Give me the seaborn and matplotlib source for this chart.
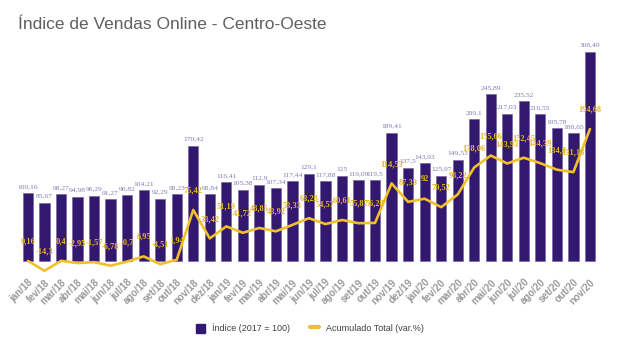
import numpy as np
import pandas as pd
import matplotlib
matplotlib.use("Agg")
import matplotlib.pyplot as plt
from matplotlib.patches import Patch
from matplotlib.lines import Line2D
import seaborn as sns

months = ["jan/18", "fev/18", "mar/18", "abr/18", "mai/18", "jun/18", "jul/18", "ago/18",
          "set/18", "out/18", "nov/18", "dez/18", "jan/19", "fev/19", "mar/19", "abr/19",
          "mai/19", "jun/19", "jul/19", "ago/19", "set/19", "out/19", "nov/19", "dez/19",
          "jan/20", "fev/20", "mar/20", "abr/20", "mai/20", "jun/20", "jul/20", "ago/20",
          "set/20", "out/20", "nov/20"]
indice = [100.16, 85.67, 98.27, 94.98, 96.29, 91.27, 96.82, 104.21,
          92.29, 98.23, 170.42, 98.84, 116.41, 105.38, 112.9, 107.34,
          117.44, 129.1, 117.88, 125, 119.09, 119.5, 189.41, 137.5,
          143.93, 125.97, 149.53, 209.1, 245.89, 217.03, 235.52, 216.55,
          195.78, 188.65, 308.49]
acumulado = [0.16, -14.3, 0.4, -2.95, -1.57, -6.78, -0.7, 6.95,
             -4.51, 1.94, 75.42, 33.42, 51.19, 41.72, 48.85, 43.92,
             53.33, 63.28, 54.57, 60.61, 55.87, 56.28, 114.53, 87.33,
             92, 79.52, 98.22, 138.06, 155.66, 143.93, 152.45, 144.39,
             134.8, 131.18, 194.68]

title = "Índice de Vendas Online - Centro-Oeste"
bar_label = "Índice (2017 = 100)"
line_label = "Acumulado Total (var.%)"

bar_color = "#32186E"
line_color = "#F2BF2A"

df = pd.DataFrame({"mes": months, "indice": indice, "acumulado": acumulado,
                   "pos": np.arange(len(months))})

sns.set_theme(style="white")
plt.rcParams["font.family"] = ["Liberation Sans", "DejaVu Sans"]

fig = plt.figure(figsize=(6.2, 3.53), dpi=100)
ax = fig.add_axes([0.0318, 0.222, 0.933, 0.653])

sns.barplot(data=df, x="mes", y="indice", color=bar_color, saturation=1,
            width=0.62, edgecolor="#6E5FA0", linewidth=0.4, ax=ax)
sns.lineplot(data=df, x="pos", y="acumulado", color=line_color, linewidth=1.9,
             ax=ax, sort=False)

def fmt(v):
    return f"{v:g}".replace(".", ",")

for i, v in enumerate(indice):
    ax.annotate(fmt(v), (i, v), xytext=(0, 3), textcoords="offset points",
                ha="center", va="bottom", fontsize=5.4, color="#7F7DB0",
                family="Liberation Serif")
for i, v in enumerate(acumulado):
    ax.annotate(fmt(v), (i, v), xytext=(0, 14), textcoords="offset points",
                ha="center", va="center", fontsize=6.0, color="#E8B520",
                family="Liberation Serif", fontweight="bold")

ax.set_xlim(-0.5, len(months) - 0.5)
ax.set_ylim(-20, 320)
ax.set_xlabel("")
ax.set_ylabel("")
ax.set_yticks([])
for s in ax.spines.values():
    s.set_visible(False)
ax.set_xticks(range(len(months)))
ax.set_xticklabels(months, rotation=45, ha="right", rotation_mode="anchor",
                   fontsize=7, color="#9A9A9A", fontweight="bold")
ax.tick_params(axis="x", length=0, pad=2)

fig.text(0.029, 0.932, title, fontsize=12.5, color="#5F5F5F", ha="left", va="center")

handles = [Patch(facecolor=bar_color, edgecolor=bar_color),
           Line2D([0], [0], color=line_color, linewidth=3)]
fig.legend(handles, [bar_label, line_label], loc="center", bbox_to_anchor=(0.5, 0.07),
           ncol=2, frameon=False, fontsize=6.5, handlelength=1.0, handleheight=1.2,
           handletextpad=0.8, columnspacing=2.2, labelcolor="#404040")

fig.savefig("out.png", dpi=100)
